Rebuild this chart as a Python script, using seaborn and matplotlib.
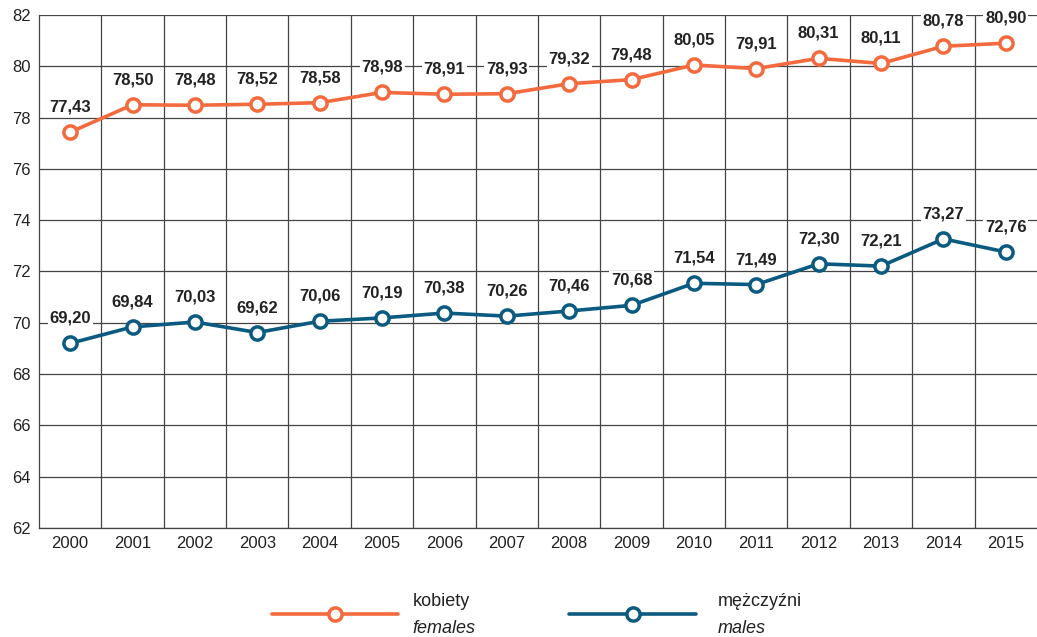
import seaborn as sns
import matplotlib.pyplot as plt
from matplotlib.lines import Line2D
import pandas as pd

# dane
years = [2000, 2001, 2002, 2003, 2004, 2005, 2006, 2007, 2008, 2009, 2010, 2011, 2012, 2013, 2014, 2015]
females = [77.43, 78.50, 78.48, 78.52, 78.58, 78.98, 78.91, 78.93, 79.32, 79.48, 80.05, 79.91, 80.31, 80.11, 80.78, 80.90]
males = [69.20, 69.84, 70.03, 69.62, 70.06, 70.19, 70.38, 70.26, 70.46, 70.68, 71.54, 71.49, 72.30, 72.21, 73.27, 72.76]
series = ["kobiety", "mężczyźni"]
series_en = ["females", "males"]
colors = ["#f26a3d", "#0b5a80"]

n = len(years)
df = pd.DataFrame({
    "idx": list(range(n)) * 2,
    "value": females + males,
    "sex": [series[0]] * n + [series[1]] * n,
})

sns.set_style("white")
plt.rcParams['font.family'] = ['Liberation Sans', 'DejaVu Sans']

fig = plt.figure(figsize=(10.37, 6.37), dpi=100)
ax = fig.add_axes([0.0376, 0.1711, 0.9624, 0.8054])

sns.lineplot(data=df, x="idx", y="value", hue="sex", palette=colors,
             marker="o", markersize=9.5, markerfacecolor="white",
             markeredgewidth=2.5, linewidth=2.6, legend=False, ax=ax, zorder=3)
for line, c in zip(ax.lines, colors):
    line.set_markeredgecolor(c)

# siatka
ax.set_xlim(-0.5, n - 0.5)
ax.set_ylim(62, 82)
ax.set_yticks(range(62, 83, 2))
ax.set_xticks(range(n))
ax.set_xticklabels([str(y) for y in years])
ax.set_xticks([i + 0.5 for i in range(n - 1)], minor=True)
ax.grid(True, which="major", axis="y", color="#444444", linewidth=0.9)
ax.grid(True, which="minor", axis="x", color="#444444", linewidth=0.9)
ax.grid(False, which="major", axis="x")
ax.tick_params(axis="both", which="both", length=0, labelsize=12, colors="#222222", pad=6)
ax.set_xlabel("")
ax.set_ylabel("")
for s in ["top", "right"]:
    ax.spines[s].set_visible(False)
for s in ["left", "bottom"]:
    ax.spines[s].set_color("#444444")
    ax.spines[s].set_linewidth(0.9)

# etykiety wartości
for vals in [females, males]:
    for i, v in enumerate(vals):
        ax.annotate(f"{v:.2f}".replace(".", ","), (i, v), xytext=(0, 18),
                    textcoords="offset points", ha="center", va="center",
                    fontsize=12, fontweight="bold", color="#222222",
                    bbox=dict(boxstyle="square,pad=0.1", fc="white", ec="none"),
                    zorder=4)

# legenda
lx = [0.262, 0.549]
tx = [0.398, 0.692]
for k in range(2):
    h = Line2D([lx[k], lx[k] + 0.122], [0.036, 0.036], transform=fig.transFigure,
               color=colors[k], linewidth=2.6)
    m = Line2D([lx[k] + 0.061], [0.036], transform=fig.transFigure,
               marker="o", markersize=9.5, markerfacecolor="white",
               markeredgecolor=colors[k], markeredgewidth=2.5)
    fig.add_artist(h)
    fig.add_artist(m)
    fig.text(tx[k], 0.055, series[k], fontsize=13, color="#222222", va="center")
    fig.text(tx[k], 0.014, series_en[k], fontsize=13, color="#222222",
             va="center", style="italic")

fig.savefig("out.png", dpi=100)
